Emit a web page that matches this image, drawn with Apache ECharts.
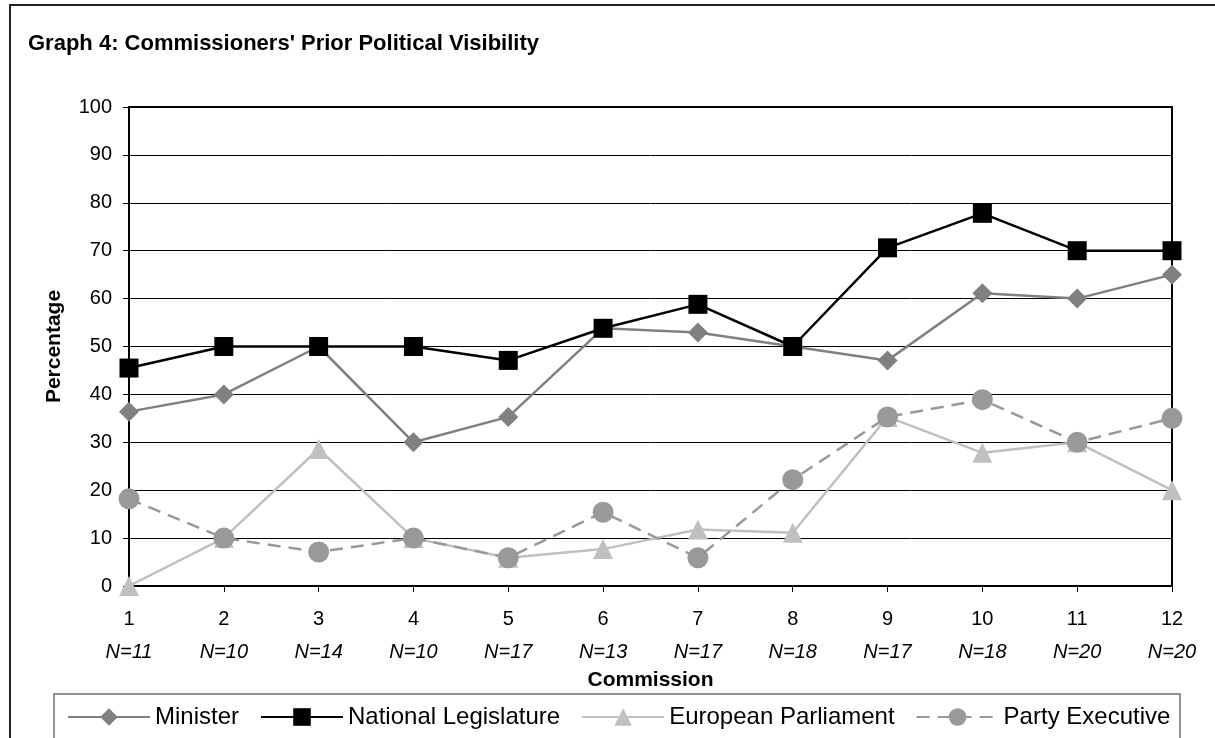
<!DOCTYPE html>
<html>
<head>
<meta charset="utf-8">
<title>Graph 4</title>
<script src="https://cdn.jsdelivr.net/npm/echarts@6/dist/echarts.min.js"></script>
<style>
  html, body { margin: 0; padding: 0; background: #fff; }
  #chart { width: 1215px; height: 738px; }
</style>
</head>
<body>
<div id="chart"></div>
<script>
// commissions 1..12, with the number of commissioners under each
const commissions = ['1', '2', '3', '4', '5', '6', '7', '8', '9', '10', '11', '12'];
const nLabels = ['N=11', 'N=10', 'N=14', 'N=10', 'N=17', 'N=13', 'N=17', 'N=18', 'N=17', 'N=18', 'N=20', 'N=20'];

// percentages
const minister = [36.4, 40, 50, 30, 35.3, 53.8, 52.9, 50, 47.1, 61.1, 60, 65];
const nationalLeg = [45.5, 50, 50, 50, 47.1, 53.8, 58.8, 50, 70.6, 77.8, 70, 70];
const europeanParl = [0, 10, 28.6, 10, 5.9, 7.7, 11.8, 11.1, 35.3, 27.8, 30, 20];
const partyExec = [18.2, 10, 7.1, 10, 5.9, 15.4, 5.9, 22.2, 35.3, 38.9, 30, 35];

const FONT = 'Liberation Sans, Arial, sans-serif';

const chart = echarts.init(document.getElementById('chart'));

function lineSeries(name, data, color, symbol, size, dashed) {
  return {
    name: name,
    type: 'line',
    data: data,
    symbol: symbol,
    symbolSize: size,
    showAllSymbol: true,
    clip: false,
    lineStyle: { color: color, width: 2.5, type: dashed ? [13, 8] : 'solid' },
    itemStyle: { color: color, borderWidth: 0 },
    emphasis: { disabled: true }
  };
}

chart.setOption({
  animation: false,
  textStyle: { fontFamily: FONT },
  title: {
    text: "Graph 4: Commissioners' Prior Political Visibility",
    left: 23, top: 28,
    textStyle: { fontFamily: FONT, fontSize: 22, fontWeight: 'bold', color: '#000' }
  },
  graphic: [
    { type: 'rect', shape: { x: 10, y: 5, width: 1230, height: 760 },
      style: { fill: 'none', stroke: '#222', lineWidth: 2 }, silent: true },
    { type: 'rect', shape: { x: 54, y: 694, width: 1126, height: 70 },
      style: { fill: 'none', stroke: '#707070', lineWidth: 1.5 }, silent: true }
  ],
  legend: {
    left: 62, top: 700,
    itemWidth: 82, itemHeight: 22, itemGap: 21,
    textStyle: { fontFamily: FONT, fontSize: 24, color: '#000' },
    data: ['Minister', 'National Legislature', 'European Parliament', 'Party Executive']
  },
  grid: { left: 129, right: 43, top: 107, bottom: 152, show: true, borderColor: '#000', borderWidth: 2 },
  xAxis: {
    type: 'category',
    data: commissions,
    boundaryGap: false,
    name: 'Commission',
    nameLocation: 'middle',
    nameGap: 84,
    nameTextStyle: { fontFamily: FONT, fontSize: 21, fontWeight: 'bold', color: '#000' },
    axisLine: { lineStyle: { color: '#000', width: 2 } },
    axisTick: { show: true, length: 6, lineStyle: { color: '#000', width: 1 } },
    axisLabel: {
      margin: 17,
      color: '#000',
      formatter: (v, i) => `{n|${v}}\n{i|${nLabels[i]}}`,
      rich: {
        n: { fontFamily: FONT, fontSize: 20, lineHeight: 33, color: '#000' },
        i: { fontFamily: FONT, fontSize: 20, lineHeight: 33, fontStyle: 'italic', color: '#000' }
      }
    },
    splitLine: { show: false }
  },
  yAxis: {
    type: 'value',
    min: 0, max: 100, interval: 10,
    name: 'Percentage',
    nameLocation: 'middle',
    nameRotate: 90,
    nameGap: 64,
    nameTextStyle: { fontFamily: FONT, fontSize: 21, fontWeight: 'bold', color: '#000' },
    axisLine: { show: true, lineStyle: { color: '#000', width: 2 } },
    axisTick: { show: true, length: 6, lineStyle: { color: '#000', width: 1 } },
    axisLabel: { margin: 17, fontFamily: FONT, fontSize: 20, color: '#000' },
    splitLine: { show: true, lineStyle: { color: '#000', width: 1 } }
  },
  series: [
    lineSeries('Minister', minister, '#808080', 'diamond', 20, false),
    lineSeries('National Legislature', nationalLeg, '#000000', 'rect', 19, false),
    lineSeries('European Parliament', europeanParl, '#C0C0C0', 'triangle', 20, false),
    lineSeries('Party Executive', partyExec, '#999999', 'circle', 21, true)
  ]
});
</script>
</body>
</html>
